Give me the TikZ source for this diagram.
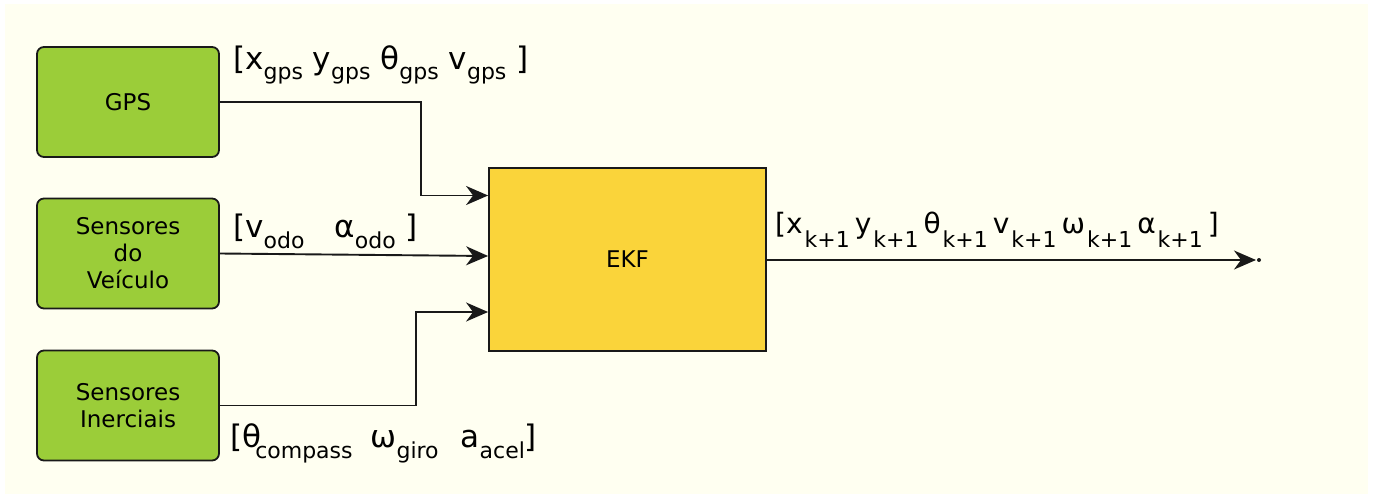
\documentclass[tikz,border=0pt]{standalone}
\usepackage{fontspec}
\setmainfont{DejaVu Sans}
\usetikzlibrary{arrows.meta,positioning,calc}
\definecolor{bgIvory}{RGB}{255,255,241}
\definecolor{clrSensor}{RGB}{155,205,57}
\definecolor{clrEKF}{RGB}{250,212,58}
\newcommand{\sbs}[2][11pt]{\raisebox{-#1}{\fontsize{22}{26}\selectfont #2}}
\newcommand{\kpo}{\hspace{2pt}\sbs[14pt]{k+1}\hspace{5pt}}
\tikzset{
  sensor/.style={rectangle,rounded corners=7pt,draw=black!90,fill=clrSensor,
    line width=1.8pt,minimum width=182pt,minimum height=110pt,align=center,
    font=\fontsize{23}{27}\selectfont,inner sep=0pt},
  filterbox/.style={rectangle,draw=black!90,fill=clrEKF,line width=1.8pt,
    minimum width=277pt,minimum height=183pt,
    font=\fontsize{23}{27}\selectfont,inner sep=0pt},
  flow/.style={-{Stealth[length=22pt,width=19pt,inset=7pt]},line width=1.9pt,
    draw=black!90},
  signal/.style={anchor=base west,inner sep=0pt,
    font=\fontsize{31}{36}\selectfont}
}
\begin{document}
\begin{tikzpicture}[x=1pt,y=-1pt]
  \useasboundingbox (0,0) rectangle (1377,498);
  \fill[bgIvory] (5,4) rectangle (1368,494);

  % sensors
  \node[sensor] (gps) at (128,102) {GPS};
  \node[sensor] (veh) at (128,253.5) {Sensores\\do\\ Veículo};
  \node[sensor] (ine) at (128,405.5) {Sensores\\Inerciais};

  % filter
  \node[filterbox] (ekf) at (627.5,259.5) {EKF};
  \coordinate (out) at (1259,260);

  \draw[flow] (gps.east) -- ++(201,0) |- ($(ekf.west)+(0,-64)$);
  \draw[flow] (veh.east) -- ($(ekf.west)+(0,-3.5)$);
  \draw[flow] (ine.east) -- ++(196,0) |- ($(ekf.west)+(0,52.5)$);
  \draw[flow,shorten >=3pt] (ekf.east |- out) -- (out);
  \fill[black!90] (out) circle (2pt);

  % signals
  \node[signal] (gps-sig) at (233,69)
    {[x\sbs[10pt]{gps} y\sbs[10pt]{gps} θ\sbs[10pt]{gps} v\sbs[10pt]{gps} ]};
  \node[signal] (veh-sig) at (233,237)
    {[v\sbs{odo}\hspace{30pt}α\sbs{odo} ]};
  \node[signal] (ine-sig) at (230,447)
    {[θ\hspace{-6pt}\sbs{compass}\hspace{18pt}ω\sbs{giro}\hspace{22pt}a\sbs{acel}]};
  \node[signal,font=\fontsize{28}{34}\selectfont] (ekf-sig) at (775,233)
    {[x\kpo y\kpo θ\kpo v\kpo ω\kpo α\kpo]};
\end{tikzpicture}
\end{document}
